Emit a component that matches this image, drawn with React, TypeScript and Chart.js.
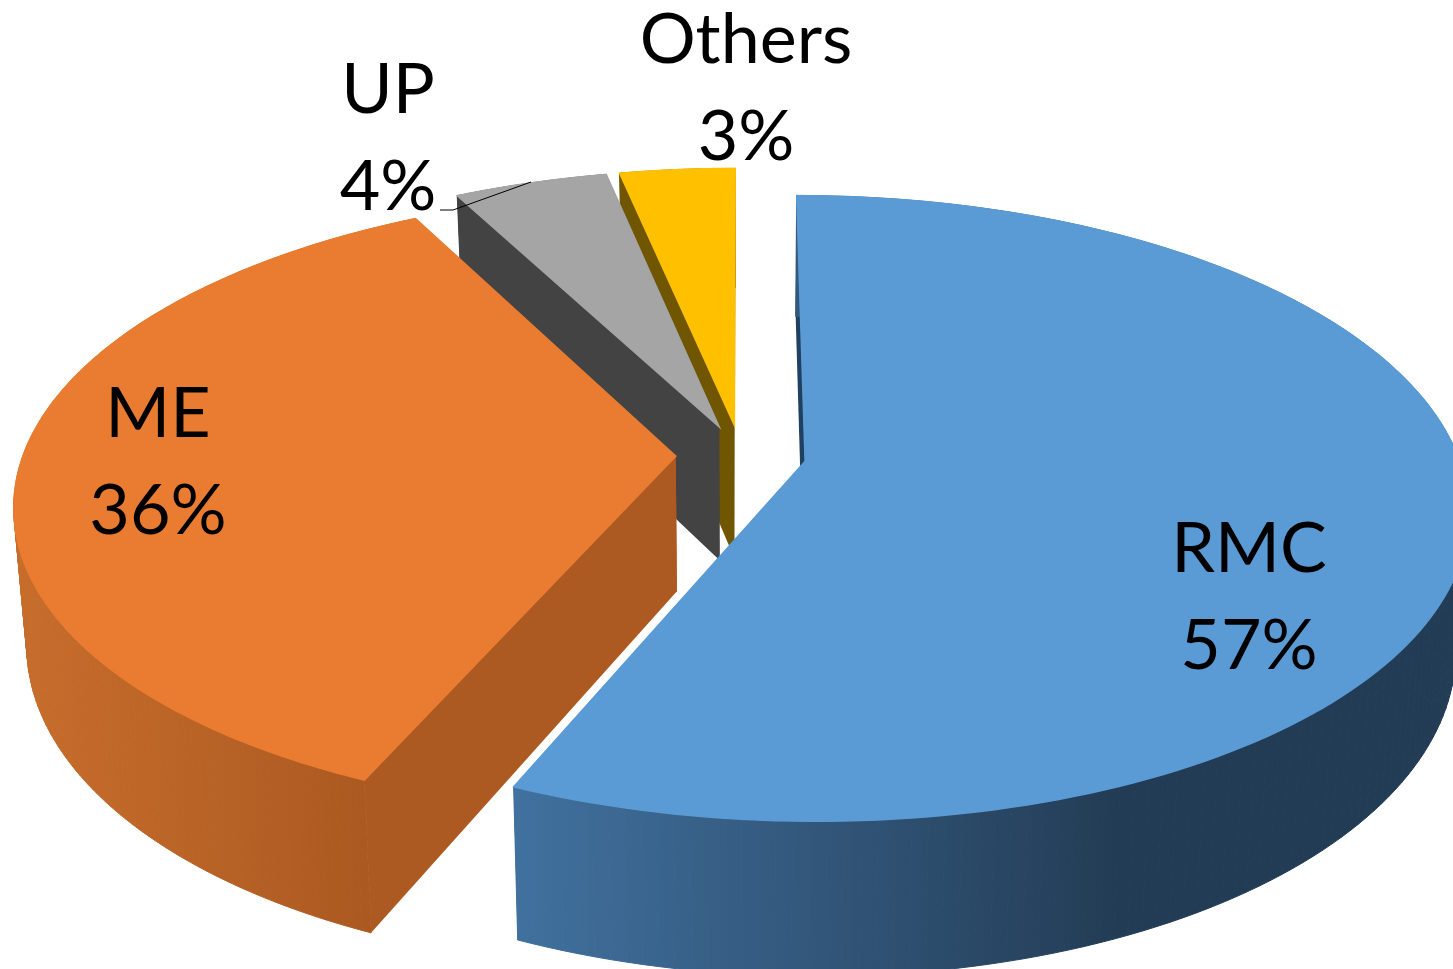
import React, { useEffect, useRef } from "react";
import { Chart, registerables } from "chart.js";

Chart.register(...registerables);

const categories = ["RMC", "ME", "UP", "Others"];
const shares = [56.5, 35.8, 4.4, 3.3];
const percentLabels = ["57%", "36%", "4%", "3%"];

const topColors = ["#5B9BD5", "#E97C30", "#A5A5A5", "#FFC000"];
const cutWallColors = ["#1F4060", "#AD5A22", "#434343", "#705600"];
// outer wall gradient stops: [x0, colour0, x1, colour1]
const outerWallStops: [number, string, number, string][] = [
  [513, "#41719F", 1120, "#233C55"],
  [20, "#C76D2C", 370, "#AB5921"],
  [460, "#434343", 620, "#434343"],
  [620, "#705600", 740, "#705600"],
];
const labelAnchors = [
  [1249, 549],
  [158, 414],
  [388, 90],
  [746, 40],
];
const drawOrder = [3, 2, 1, 0];

// perspective of the pie's top and bottom planes
const persp = 0.1506;
const top = { sx: 2.175, sy: 1.0127, dy: 0 };
const bottom = { sx: 2.136, sy: 1.068, dy: 135 };

const pie3d = {
  id: "pie3d",
  beforeDatasetDraw(chart: any) {
    const ctx: CanvasRenderingContext2D = chart.ctx;
    const arcs = chart.getDatasetMeta(0).data;
    const project = (arc: any, u: number, v: number, plane: typeof top) => {
      const w = 1 - persp * v;
      const R = arc.outerRadius;
      return [arc.x + (plane.sx * R * u) / w, arc.y + plane.dy + (plane.sy * R * v) / w];
    };
    const sample = (arc: any, plane: typeof top) => {
      const R = arc.outerRadius;
      const mid = (arc.startAngle + arc.endAngle) / 2;
      const off = arc.options.offset / R;
      const ou = off * Math.cos(mid);
      const ov = off * Math.sin(mid);
      const apex = project(arc, ou, ov, plane);
      const rim: number[][] = [];
      const n = 160;
      for (let i = 0; i <= n; i++) {
        const a = arc.startAngle + ((arc.endAngle - arc.startAngle) * i) / n;
        rim.push(project(arc, ou + Math.cos(a), ov + Math.sin(a), plane));
      }
      return { apex, rim };
    };
    const trace = (pts: number[][]) => {
      ctx.beginPath();
      pts.forEach((p, i) => (i ? ctx.lineTo(p[0], p[1]) : ctx.moveTo(p[0], p[1])));
      ctx.closePath();
    };
    const poly = (pts: number[][], fill: string | CanvasGradient) => {
      trace(pts);
      ctx.fillStyle = fill;
      ctx.fill();
    };
    for (const idx of drawOrder) {
      const arc = arcs[idx];
      const t = sample(arc, top);
      const b = sample(arc, bottom);
      const last = t.rim.length - 1;
      poly([t.apex, t.rim[0], b.rim[0], b.apex], cutWallColors[idx]);
      poly([t.apex, t.rim[last], b.rim[last], b.apex], cutWallColors[idx]);
      const [x0, c0, x1, c1] = outerWallStops[idx];
      const g = ctx.createLinearGradient(x0, 0, x1, 0);
      g.addColorStop(0, c0);
      g.addColorStop(1, c1);
      // the outer wall is swept rim segment by rim segment, so its silhouette is straight
      ctx.strokeStyle = g;
      ctx.lineWidth = 1;
      for (let i = 0; i < last; i++) {
        trace([t.rim[i], t.rim[i + 1], b.rim[i + 1], b.rim[i]]);
        ctx.fillStyle = g;
        ctx.fill();
        ctx.stroke();
      }
      poly([t.apex, ...t.rim], arc.options.backgroundColor);
      ctx.strokeStyle = arc.options.backgroundColor;
      ctx.lineWidth = 1.5;
      trace([t.apex, ...t.rim]);
      ctx.stroke();
    }
    return false;
  },
  afterDatasetsDraw(chart: any) {
    const ctx: CanvasRenderingContext2D = chart.ctx;
    ctx.save();
    ctx.strokeStyle = "#000000";
    ctx.lineWidth = 1;
    ctx.beginPath();
    ctx.moveTo(440, 210);
    ctx.lineTo(453, 210);
    ctx.lineTo(531, 182);
    ctx.stroke();
    ctx.fillStyle = "#000000";
    ctx.font = '70px Lato, "Open Sans", sans-serif';
    ctx.textAlign = "center";
    ctx.textBaseline = "middle";
    categories.forEach((name, i) => {
      const [x, y] = labelAnchors[i];
      ctx.fillText(name, x, y);
      ctx.fillText(percentLabels[i], x, y + 97);
    });
    ctx.restore();
  },
};

export default function App() {
  const ref = useRef<HTMLCanvasElement>(null);
  useEffect(() => {
    document.body.style.margin = "0";
    const chart = new Chart(ref.current!, {
      type: "pie",
      data: {
        labels: categories,
        datasets: [
          {
            data: shares,
            backgroundColor: topColors,
            borderWidth: 0,
            offset: 30,
          },
        ],
      },
      options: {
        animation: false,
        responsive: false,
        radius: 300,
        layout: { padding: { left: 29, bottom: 59 } },
        plugins: { legend: { display: false }, tooltip: { enabled: false } },
      } as any,
      plugins: [pie3d],
    });
    return () => chart.destroy();
  }, []);
  return <canvas ref={ref} width={1453} height={969} style={{ display: "block" }} />;
}
